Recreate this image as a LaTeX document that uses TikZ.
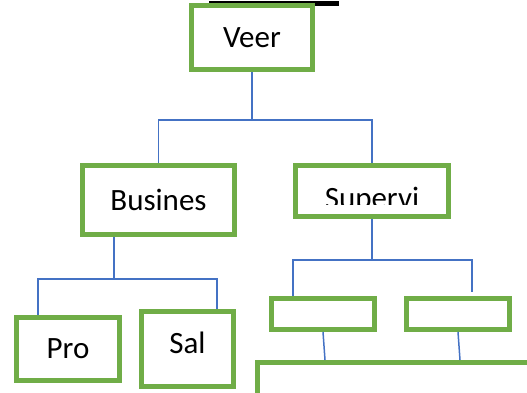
\documentclass[tikz,border=0pt]{standalone}
\usepackage{fontspec}
\setmainfont{Carlito}
\usepackage{tikz}
\definecolor{boxgreen}{HTML}{70AD47}
\definecolor{linkblue}{HTML}{4472C4}
\tikzset{
    unit/.style={draw=boxgreen,line width=5pt,fill=white,inner sep=0pt,
        font=\fontsize{31}{37}\selectfont},
    link/.style={draw=linkblue,line width=1.5pt},
}

\begin{document}
\begin{tikzpicture}[x=1pt,y=-1pt]
        \useasboundingbox (0,0) rectangle (527,392);
        \clip (0,0) rectangle (527,392);
        \draw[line width=5pt] (209,3) -- (339,3);

        \node[unit,minimum width=121pt,minimum height=64pt] (veer) at (252,37.5) {Veer};
        \node[unit,minimum width=152pt,minimum height=69pt] (busines) at (158.5,200) {Busines};
        \node[unit,minimum width=153pt,minimum height=51pt] (supervi) at (372,191) {};
        \begin{scope}
            \clip (296,166) rectangle (448,204);
            \node[font=\fontsize{31}{37}\selectfont,anchor=base,inner sep=0pt] (supText) at (372,208) {Supervi};
        \end{scope}

        \node[unit,minimum width=103pt,minimum height=63pt] (pro) at (68,349) {Pro};
        \node[unit,minimum width=92pt,minimum height=75pt,text depth=12pt] (sal) at (187.5,349) {Sal};
        \node[unit,minimum width=103pt,minimum height=31pt] (boxA) at (323,314) {};
        \node[unit,minimum width=103pt,minimum height=31pt] (boxB) at (458,314) {};
        \node[unit,minimum width=300pt,minimum height=60pt] (big) at (407.5,392.5) {};

        \coordinate (topJ) at (252,120);
        \coordinate (busJ) at (114,279);
        \coordinate (supJ) at (372,260);
        \coordinate (supEnd) at (472,292);
        \draw[link] (veer.south) -- (topJ);
        \draw[link] (busines.north) |- (topJ) -| (supervi.north);
        \draw[link] (busJ |- busines.south) -- (busJ);
        \draw[link] ([xshift=-30pt]pro.north) |- (busJ) -| ([xshift=29.5pt]sal.north);
        \draw[link] (supervi.south) -- (supJ);
        \draw[link] ([xshift=-30pt]boxA.north) |- (supJ) -| (supEnd);
        \draw[link] (boxA.south) -- ++(2,28);
        \draw[link] (boxB.south) -- ++(2,28);
    \end{tikzpicture}
\end{document}
